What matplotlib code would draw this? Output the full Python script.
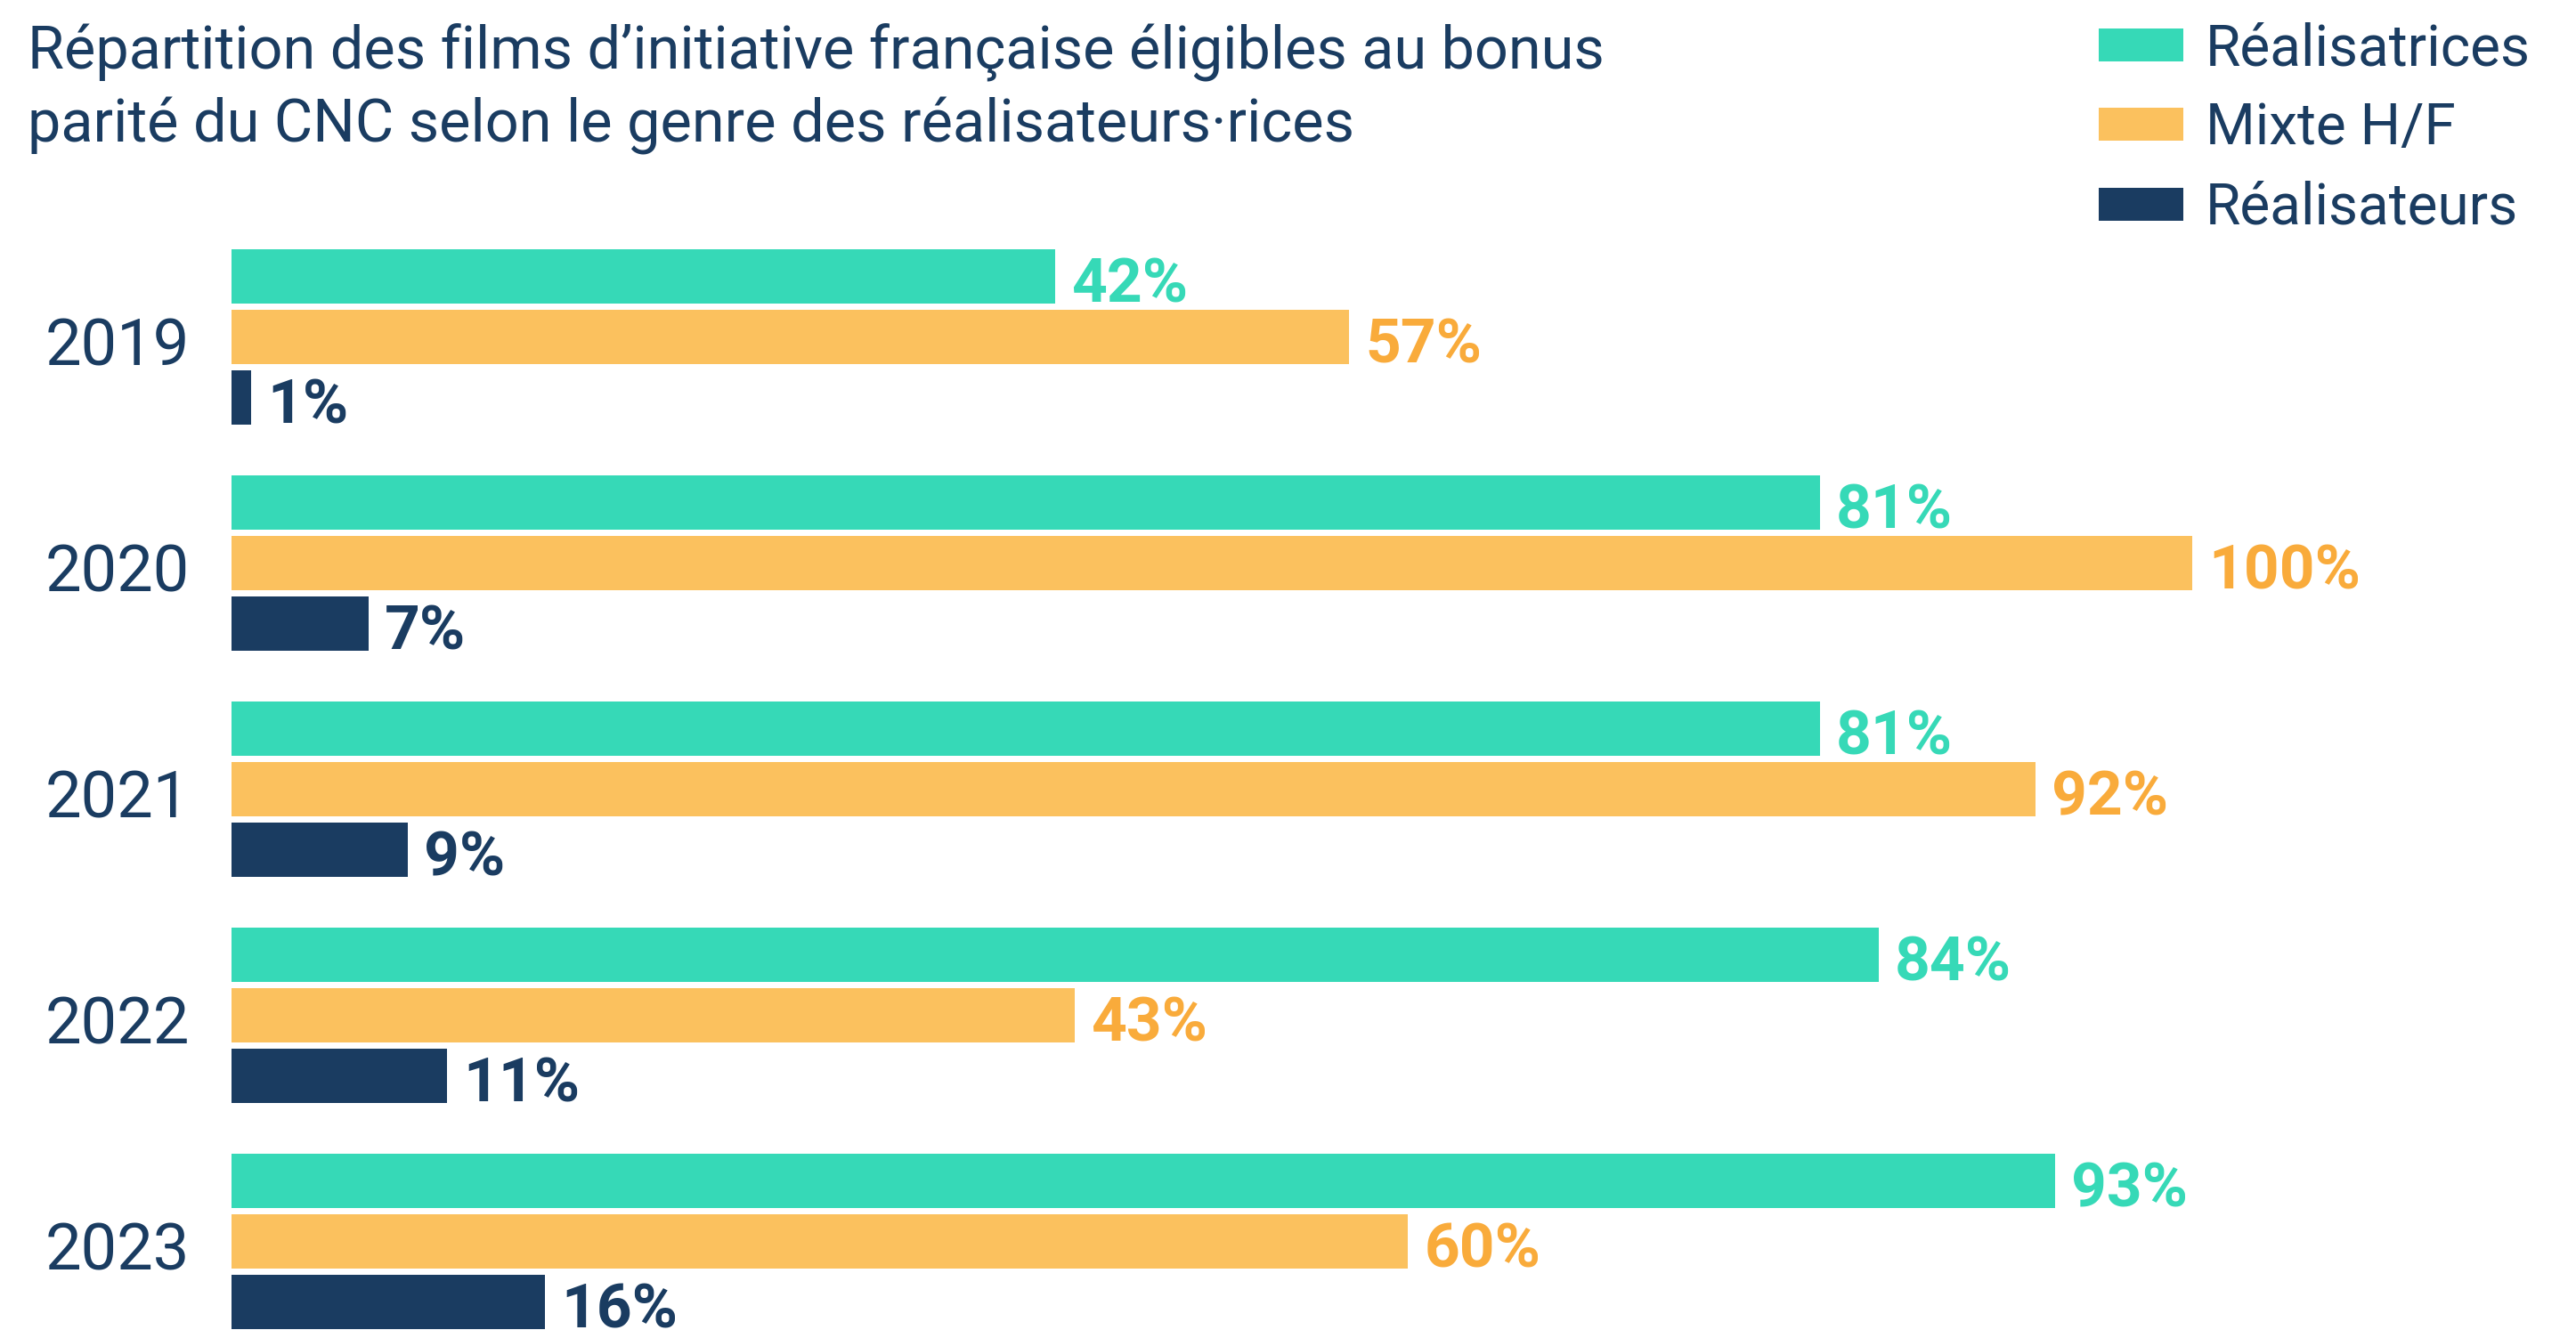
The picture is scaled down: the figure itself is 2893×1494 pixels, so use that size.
import matplotlib
matplotlib.use("Agg")
import matplotlib.pyplot as plt
from matplotlib.patches import Patch

plt.rcParams['font.family'] = ['Roboto', 'DejaVu Sans']

years = ['2019', '2020', '2021', '2022', '2023']
series_names = ['Réalisatrices', 'Mixte H/F', 'Réalisateurs']
realisatrices = [42, 81, 81, 84, 93]
mixte = [57, 100, 92, 43, 60]
realisateurs = [1, 7, 9, 11, 16]

title_1 = "Répartition des films d’initiative française éligibles au bonus"
title_2 = "parité du CNC selon le genre des réalisateurs·rices"

NAVY = '#1a3c61'
bar_colors = ['#36d9b7', '#fbc15e', NAVY]
label_colors = ['#36d9b7', '#f9ab3b', NAVY]

W, H = 2893, 1494
fig = plt.figure(figsize=(W / 100, H / 100), dpi=100)

# axes covers from bar start to right edge, whole height
x0 = 260
ax = fig.add_axes([x0 / W, 0, 1 - x0 / W, 1])
px_per_pct = (2462 - x0) / 100
ax.set_xlim(0, (W - x0) / px_per_pct)
pitch = 254
ax.set_ylim((H - 378.5) / pitch, -378.5 / pitch)
ax.axis('off')

bar_h = 61 / pitch
step = 68 / pitch
all_series = [realisatrices, mixte, realisateurs]
for k, vals in enumerate(all_series):
    pos = [i + (k - 1) * step for i in range(len(years))]
    ax.barh(pos, vals, height=bar_h, color=bar_colors[k], linewidth=0)
    for p, v in zip(pos, vals):
        ax.annotate(f"{v}%", (v, p + bar_h / 2), xytext=(13, 1),
                    textcoords='offset points', ha='left', va='baseline',
                    fontsize=50, fontweight='bold', color=label_colors[k])

for i, y in enumerate(years):
    ax.annotate(y, (0, i + 0.05), xytext=(-34, 0), textcoords='offset points',
                ha='right', va='center', fontsize=52, color=NAVY)

fig.text(31 / W, 1 - 78 / H, title_1, ha='left', va='baseline',
         fontsize=48, color=NAVY)
fig.text(31 / W, 1 - 160 / H, title_2, ha='left', va='baseline',
         fontsize=48, color=NAVY)

handles = [Patch(facecolor=c, edgecolor='none') for c in bar_colors]
fig.legend(handles, series_names, loc='upper left',
           bbox_to_anchor=(2357 / W, 1 - 24 / H), frameon=False,
           fontsize=46, labelcolor=NAVY, handlelength=1.48, handleheight=0.51,
           handletextpad=0.4, labelspacing=0.43, borderpad=0, borderaxespad=0)

fig.savefig('out.png', dpi=100)
